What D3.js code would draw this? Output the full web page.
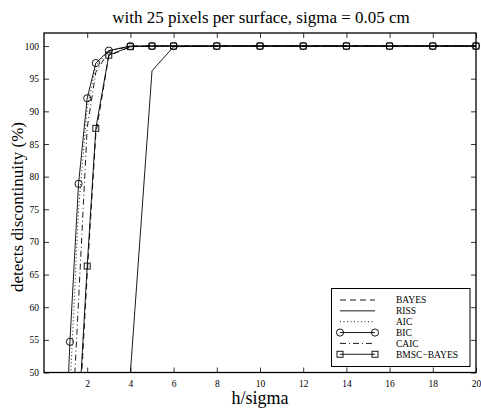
<!DOCTYPE html>
<html><head><meta charset="utf-8">
<script src="https://cdn.jsdelivr.net/npm/d3@7"></script>
<style>body{margin:0;background:#fff}svg{display:block}</style>
</head><body><svg id="c" width="481" height="409"></svg>
<script>
const hs    = [1, 1.2, 1.6, 2, 2.4, 3, 4, 5, 6, 8, 10, 12, 14, 16, 18, 20];
const bayes = [20, 30, 41, 65, 86.5, 98.5, 99.9, 100, 100, 100, 100, 100, 100, 100, 100, 100];
const riss  = [0, 0, 0, 0, 0, 5, 50, 96.2, 99.9, 100, 100, 100, 100, 100, 100, 100];
const aic   = [30, 47, 75, 90.5, 97, 99.3, 100, 100, 100, 100, 100, 100, 100, 100, 100, 100];
const bic   = [39, 54.7, 78.9, 92.0, 97.4, 99.3, 100, 100, 100, 100, 100, 100, 100, 100, 100, 100];
const caic  = [20, 35, 61, 87.5, 96, 99.2, 100, 100, 100, 100, 100, 100, 100, 100, 100, 100];
const bmsc  = [20, 30, 43, 66.3, 87.4, 98.6, 99.9, 100, 100, 100, 100, 100, 100, 100, 100, 100];
const seriesNames = ["BAYES", "RISS", "AIC", "BIC", "CAIC", "BMSC\u2212BAYES"];
const xTicks = [2, 4, 6, 8, 10, 12, 14, 16, 18, 20];
const yTicks = [50, 55, 60, 65, 70, 75, 80, 85, 90, 95, 100];

const FONT = "Liberation Serif";
const svg = d3.select("#c");
const L = 44, R = 476, T = 33, B = 372.5;
const x = d3.scaleLinear().domain([0, 20]).range([L, R]);
const y = d3.scaleLinear().domain([50, 102]).range([B, T]);

const styles = [
  {data: bayes, dash: "6,4", marker: null},
  {data: riss,  dash: null, marker: null},
  {data: aic,   dash: "1,2.5", marker: null},
  {data: bic,   dash: null, marker: "circle"},
  {data: caic,  dash: "6,3,1,3", marker: null},
  {data: bmsc,  dash: null, marker: "square"}
];

svg.append("defs").append("clipPath").attr("id","clip")
  .append("rect").attr("x", L).attr("y", T).attr("width", R-L).attr("height", B-T);

const line = d3.line().x((d,i)=>x(hs[i])).y(d=>y(d));
const g = svg.append("g");
styles.forEach(s=>{
  g.append("path").attr("d", line(s.data)).attr("fill","none").attr("stroke","#000")
   .attr("stroke-width",0.9).attr("stroke-dasharray", s.dash).attr("clip-path","url(#clip)");
});
function drawMarker(sel, type, cx, cy){
  if(type==="circle") sel.append("circle").attr("cx",cx).attr("cy",cy).attr("r",3.6)
     .attr("fill","none").attr("stroke","#000").attr("stroke-width",0.9);
  else if(type==="square") sel.append("rect").attr("x",cx-3).attr("y",cy-3).attr("width",6).attr("height",6)
     .attr("fill","none").attr("stroke","#000").attr("stroke-width",0.9);
}
styles.forEach(s=>{
  if(!s.marker) return;
  s.data.forEach((v,i)=>{ if(v>=50) drawMarker(g, s.marker, x(hs[i]), y(v)); });
});

// axes box
const ax = svg.append("g");
ax.append("rect").attr("x",L).attr("y",T).attr("width",R-L).attr("height",B-T)
  .attr("fill","none").attr("stroke","#000").attr("stroke-width",1.3);
const xb = d3.axisBottom(x).tickValues(xTicks).tickSizeInner(-5).tickSizeOuter(0).tickPadding(8);
const xt = d3.axisTop(x).tickValues(xTicks).tickSizeInner(-5).tickSizeOuter(0).tickFormat("");
const yl = d3.axisLeft(y).tickValues(yTicks).tickSizeInner(-5).tickSizeOuter(0).tickPadding(5);
const yr = d3.axisRight(y).tickValues(yTicks).tickSizeInner(-5).tickSizeOuter(0).tickFormat("");
[[xb,`translate(0,${B})`],[xt,`translate(0,${T})`],[yl,`translate(${L},0)`],[yr,`translate(${R},0)`]].forEach(([a,t])=>{
  const gg = ax.append("g").attr("transform",t).call(a).attr("font-family", FONT).attr("font-size", 9.5);
  gg.select(".domain").remove();
  gg.selectAll("line").attr("stroke","#000").attr("stroke-width",0.8);
  gg.selectAll("text").style("font-family", FONT).attr("fill","#000");
});

// title and labels
svg.append("text").attr("x",261).attr("y",23).attr("text-anchor","middle").style("font-family",FONT).attr("font-size",17)
  .text("with 25 pixels per surface, sigma = 0.05 cm");
svg.append("text").attr("x",260).attr("y",404).attr("text-anchor","middle").style("font-family",FONT).attr("font-size",18).text("h/sigma");
svg.append("text").attr("transform","translate(23,207) rotate(-90)").attr("text-anchor","middle")
  .style("font-family",FONT).attr("font-size",17).text("detects discontinuity (%)");

// legend
const lg = svg.append("g");
lg.append("rect").attr("x",331.5).attr("y",288.5).attr("width",138.5).attr("height",78)
  .attr("fill","#fff").attr("stroke","#000").attr("stroke-width",1);
styles.forEach((s,i)=>{
  const yy = 300 + i*10.85;
  lg.append("line").attr("x1",340).attr("x2",375).attr("y1",yy).attr("y2",yy).attr("stroke","#000")
    .attr("stroke-width",0.9).attr("stroke-dasharray",s.dash);
  if(s.marker){ drawMarker(lg, s.marker, 340, yy); drawMarker(lg, s.marker, 375, yy); }
  lg.append("text").attr("x",396).attr("y",yy+3.3).style("font-family",FONT).attr("font-size",9.5).text(seriesNames[i]);
});
</script></body></html>
